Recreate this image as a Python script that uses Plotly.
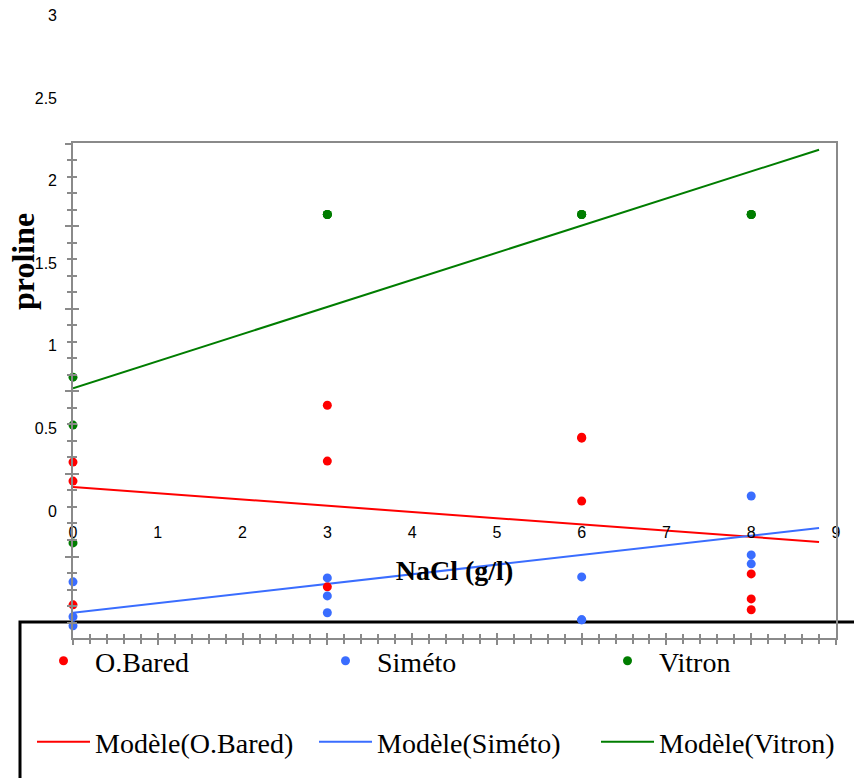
import plotly.graph_objects as go

# ---------------- data ----------------
x_points = [0, 0, 0, 3, 3, 3, 6, 6, 6, 8, 8, 8]
obared = [0.296, 0.181, -0.568, 0.640, 0.302, -0.459, 0.447, 0.441, 0.060, -0.381, -0.532, -0.598]
simeto = [-0.429, -0.640, -0.695, -0.405, -0.514, -0.616, -0.399, -0.659, -0.659, 0.091, -0.266, -0.320]
vitron = [0.810, 0.520, -0.193, 1.795, 1.795, 1.795, 1.795, 1.795, 1.795, 1.795, 1.795, 1.795]

model_x = [0, 8.8]
model_obared = [0.145, -0.187]
model_simeto = [-0.616, -0.103]
model_vitron = [0.743, 2.187]

y_tick_values = [0, 0.5, 1, 1.5, 2, 2.5, 3]
y_tick_labels = ["0", "0.5", "1", "1.5", "2", "2.5", "3"]
x_tick_values = [0, 1, 2, 3, 4, 5, 6, 7, 8, 9]
x_tick_labels = ["0", "1", "2", "3", "4", "5", "6", "7", "8", "9"]

# ---------------- layout geometry (page pixels; body margin removed) ----------------
W, H = 854, 778
ML, MT, MR, MB = 73, 0, 0, 136
PW, PH = W - ML - MR, H - MT - MB
PLOT_TOP = MT
PLOT_BOT = PLOT_TOP + PH


def px(xpage):
    return (xpage - ML) / PW


def py(ypage):
    return (PLOT_BOT - ypage) / PH


RED, BLUE, GREEN = "#ff0000", "#3a6dff", "#007d00"
GRAY = "#8a8a8a"
SERIF = "Liberation Serif"
SANS = "Liberation Sans"
SCALE = 165.2  # pixels per y unit
Y0 = 511       # page y of value 0

fig = go.Figure()

for name, vals, col in [("Modèle(O.Bared)", model_obared, RED),
                        ("Modèle(Siméto)", model_simeto, BLUE),
                        ("Modèle(Vitron)", model_vitron, GREEN)]:
    fig.add_trace(go.Scatter(x=model_x, y=vals, mode="lines", name=name,
                             line=dict(color=col, width=2), legend="legend2"))

for name, vals, col in [("O.Bared", obared, RED),
                        ("Siméto", simeto, BLUE),
                        ("Vitron", vitron, GREEN)]:
    fig.add_trace(go.Scatter(x=x_points, y=vals, mode="markers", name=name,
                             marker=dict(color=col, size=9), legend="legend",
                             cliponaxis=False))

# helper traces to create the decorative axis frames
for xa, ya in [("x2", "y"), ("x3", "y2"), ("x4", "y3")]:
    fig.add_trace(go.Scatter(x=[None], y=[None], xaxis=xa, yaxis=ya,
                             showlegend=False, hoverinfo="skip"))

x_dom = [0, (836 - ML) / PW]
y_data_range = [(Y0 - PLOT_BOT) / SCALE, (Y0 - PLOT_TOP) / SCALE]
y2_dom = [py(638), py(143)]
y2_range = [(Y0 - 638) / SCALE, (Y0 - 143) / SCALE]

common = dict(showgrid=False, zeroline=False)

fig.update_layout(
    width=W, height=H,
    margin=dict(l=ML, r=MR, t=MT, b=MB, autoexpand=False),
    paper_bgcolor="white", plot_bgcolor="rgba(0,0,0,0)",
    font=dict(family=SANS, size=16, color="black"),
    xaxis=dict(domain=x_dom, range=[0, 9], showline=False, ticks="",
               showticklabels=False, **common),
    yaxis=dict(domain=[0, 1], range=y_data_range, showline=False, ticks="",
               tickvals=y_tick_values, ticktext=y_tick_labels,
               ticklabelstandoff=15, ticklabeloverflow="allow",
               tickfont=dict(family=SANS, size=16),
               **common),
    xaxis2=dict(overlaying="x", anchor="free", position=py(521), side="bottom",
                range=[0, 9], tickvals=x_tick_values, ticktext=x_tick_labels,
                ticks="", showline=False, tickfont=dict(family=SANS, size=16),
                ticklabeloverflow="allow",
                title=dict(text="<b>NaCl (g/l)</b>", font=dict(family=SERIF, size=28),
                           standoff=20),
                **common),
    xaxis3=dict(overlaying="x", anchor="y2", range=[0, 9], showline=True,
                linecolor=GRAY, linewidth=2, mirror=True,
                ticks="outside", tick0=0, dtick=1, ticklen=5, tickwidth=1.5,
                tickcolor=GRAY, showticklabels=False,
                minor=dict(ticks="outside", tick0=0, dtick=0.2, ticklen=4,
                           tickwidth=1.5, tickcolor=GRAY),
                **common),
    xaxis4=dict(overlaying="x", anchor="y2", range=[0, 9], showline=False,
                ticks="inside", tick0=0, dtick=1, ticklen=5, tickwidth=1.5,
                tickcolor=GRAY, showticklabels=False,
                minor=dict(ticks="inside", tick0=0, dtick=0.2, ticklen=4,
                           tickwidth=1.5, tickcolor=GRAY),
                **common),
    yaxis2=dict(domain=y2_dom, anchor="x", range=y2_range, showline=True,
                linecolor=GRAY, linewidth=2, mirror=True,
                ticks="outside", tick0=0.2246, dtick=0.5, ticklen=6, tickwidth=1.5,
                tickcolor=GRAY, showticklabels=False,
                minor=dict(ticks="outside", tick0=0.2246, dtick=0.1, ticklen=4,
                           tickwidth=1.5, tickcolor=GRAY),
                **common),
    yaxis3=dict(overlaying="y2", anchor="x", range=y2_range, showline=False,
                ticks="inside", tick0=0.2246, dtick=0.5, ticklen=6, tickwidth=1.5,
                tickcolor=GRAY, showticklabels=False,
                minor=dict(ticks="inside", tick0=0.2246, dtick=0.1, ticklen=4,
                           tickwidth=1.5, tickcolor=GRAY),
                **common),
    legend=dict(orientation="h", x=px(32), y=py(661), xanchor="left", yanchor="middle",
                font=dict(family=SERIF, size=28, color="black"),
                itemwidth=53, entrywidth=214, entrywidthmode="pixels",
                bgcolor="rgba(0,0,0,0)", borderwidth=0),
    legend2=dict(orientation="h", x=px(32), y=py(742), xanchor="left", yanchor="middle",
                 font=dict(family=SERIF, size=28, color="black"),
                 itemwidth=53, entrywidth=214, entrywidthmode="pixels",
                 bgcolor="rgba(0,0,0,0)", borderwidth=0),
    shapes=[dict(type="rect", xref="paper", yref="paper",
                 x0=px(20), x1=px(900), y0=py(622), y1=py(830),
                 line=dict(color="black", width=3), fillcolor="rgba(0,0,0,0)",
                 layer="below")],
    annotations=[dict(text="<b>proline</b>", xref="paper", yref="paper",
                      x=px(23), y=py(262), xanchor="center", yanchor="middle",
                      textangle=-90, showarrow=False,
                      font=dict(family=SERIF, size=32, color="black"))],
)

fig.write_html(
    "out.html",
    config={"displayModeBar": False},
    post_script="document.body.style.margin='0px';document.body.style.overflow='hidden';",
)
